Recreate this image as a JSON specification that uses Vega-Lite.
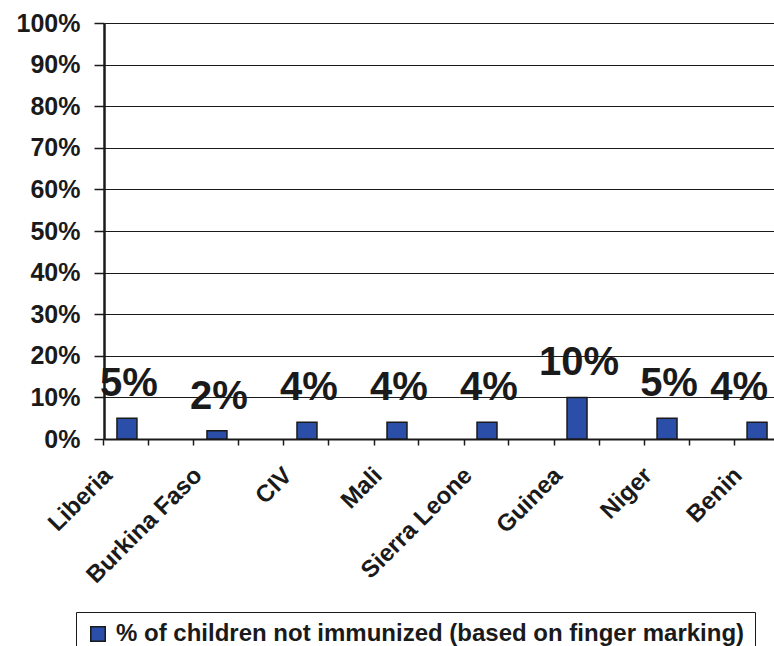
{
  "$schema": "https://vega.github.io/schema/vega-lite/v6.json",
  "autosize": "none",
  "padding": {"left": 104, "top": 23, "right": 0, "bottom": 207},
  "width": 676,
  "height": 416,
  "background": "white",
  "config": {
    "font": "Liberation Sans",
    "view": {"stroke": null},
    "axis": {"labelFont": "Liberation Sans", "labelFontWeight": "bold", "labelColor": "#1a1a1a"}
  },
  "data": {
    "values": [
      {"country": "Liberia", "value": 0.05, "series": "% of children not immunized (based on finger marking)"},
      {"country": "Burkina Faso", "value": 0.02, "series": "% of children not immunized (based on finger marking)"},
      {"country": "CIV", "value": 0.04, "series": "% of children not immunized (based on finger marking)"},
      {"country": "Mali", "value": 0.04, "series": "% of children not immunized (based on finger marking)"},
      {"country": "Sierra Leone", "value": 0.04, "series": "% of children not immunized (based on finger marking)"},
      {"country": "Guinea", "value": 0.10, "series": "% of children not immunized (based on finger marking)"},
      {"country": "Niger", "value": 0.05, "series": "% of children not immunized (based on finger marking)"},
      {"country": "Benin", "value": 0.04, "series": "% of children not immunized (based on finger marking)"}
    ]
  },
  "resolve": {"axis": {"x": "independent"}},
  "layer": [
    {
      "mark": {"type": "bar", "stroke": "#1a1a1a", "strokeWidth": 1.5},
      "encoding": {
        "x": {
          "field": "country", "type": "nominal", "sort": null,
          "scale": {"paddingInner": 0.778, "paddingOuter": 0.144},
          "axis": {
            "orient": "bottom", "title": null, "bandPosition": -0.65,
            "labelAngle": -45, "labelAlign": "right", "labelBaseline": "top",
            "labelFontSize": 24, "labelPadding": 18, "labelOffset": -27,
            "tickColor": "#1a1a1a", "tickSize": 6, "tickWidth": 1.5,
            "domainColor": "#1a1a1a", "domainWidth": 2, "labelLimit": 300
          }
        },
        "y": {
          "field": "value", "type": "quantitative",
          "scale": {"domain": [0, 1]},
          "axis": {
            "title": null, "format": ".0%", "values": [0, 0.1, 0.2, 0.3, 0.4, 0.5, 0.6, 0.7, 0.8, 0.9, 1],
            "labelFontSize": 25, "labelPadding": 14, "tickSize": 10, "tickColor": "#1a1a1a", "tickWidth": 1.5,
            "grid": true, "gridColor": "#1a1a1a", "gridWidth": 1.2, "gridOpacity": 1,
            "domainColor": "#1a1a1a", "domainWidth": 2.5
          }
        },
        "color": {
          "field": "series", "type": "nominal",
          "scale": {"range": ["#2B4FA8"]},
          "legend": {
            "title": null, "orient": "none", "legendX": -28, "legendY": 589,
            "strokeColor": "#1a1a1a", "fillColor": "white", "padding": 10,
            "symbolType": "square", "symbolSize": 210, "symbolStrokeColor": "#1a1a1a", "symbolStrokeWidth": 1.5,
            "labelFont": "Liberation Sans", "labelFontWeight": "bold", "labelFontSize": 24, "labelColor": "#1a1a1a",
            "labelLimit": 800, "labelOffset": 6, "symbolOffset": 0
          }
        }
      }
    },
    {
      "transform": [{"filter": "datum.country !== 'Benin'"}],
      "mark": {"type": "text", "fontSize": 40, "fontWeight": "bold", "font": "Liberation Sans", "color": "#1a1a1a", "baseline": "alphabetic", "dy": -22, "dx": 2},
      "encoding": {
        "x": {
          "field": "country", "type": "nominal", "sort": null,
          "axis": {
            "orient": "bottom", "title": null, "bandPosition": 1.6, "labels": false, "domain": false,
            "tickColor": "#1a1a1a", "tickSize": 6, "tickWidth": 1.5, "grid": false
          }
        },
        "y": {"field": "value", "type": "quantitative"},
        "text": {"field": "value", "type": "quantitative", "format": ".0%"}
      }
    },
    {
      "transform": [{"filter": "datum.country === 'Benin'"}],
      "mark": {"type": "text", "fontSize": 40, "fontWeight": "bold", "font": "Liberation Sans", "color": "#1a1a1a", "baseline": "alphabetic", "align": "right", "dy": -22, "dx": 11},
      "encoding": {
        "x": {"field": "country", "type": "nominal", "sort": null, "axis": null},
        "y": {"field": "value", "type": "quantitative"},
        "text": {"field": "value", "type": "quantitative", "format": ".0%"}
      }
    }
  ]
}
